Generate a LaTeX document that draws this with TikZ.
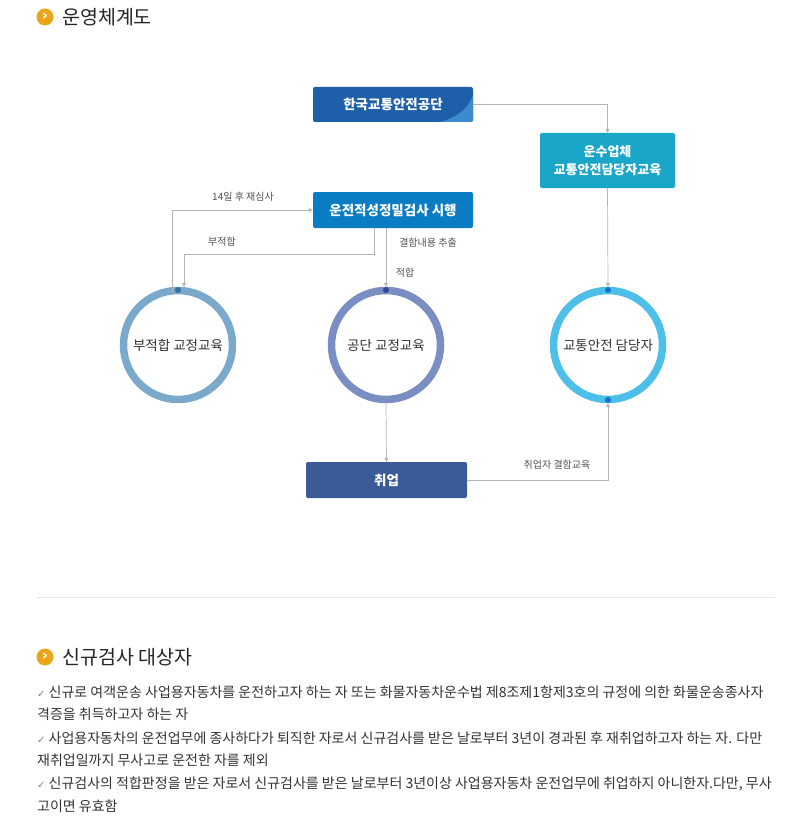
\documentclass[tikz,border=0pt]{standalone}
\usepackage{fontspec}
\setmainfont{Noto Sans CJK KR}
\newfontfamily\dvs{DejaVu Sans}
\usetikzlibrary{arrows.meta}
\definecolor{lnc}{HTML}{B5B5B5}
\definecolor{orng}{HTML}{E9A51C}
\definecolor{txt}{HTML}{333333}
\definecolor{kb}{RGB}{29,95,168}
\definecolor{kbl}{RGB}{60,140,205}
\definecolor{ub}{RGB}{26,166,201}
\definecolor{tb}{RGB}{10,124,196}
\definecolor{jb}{RGB}{58,91,152}
\definecolor{r1}{RGB}{122,169,203}
\definecolor{r2}{RGB}{123,142,196}
\definecolor{r3}{RGB}{77,191,233}
\definecolor{d1c}{RGB}{55,110,160}
\definecolor{d2c}{RGB}{50,70,150}
\definecolor{d3c}{RGB}{20,120,200}
\tikzset{
 x=1pt,y=-1pt,
 box/.style={rounded corners=2pt,text=white,font=\bfseries\fontsize{13.5}{15}\selectfont,align=center,inner sep=0pt},
 conn/.style={draw=lnc,line width=0.7pt},
 arr/.style={conn,-{Triangle[length=4pt,width=4pt]}},
 lbl/.style={font=\fontsize{10}{11}\selectfont,text=txt!85},
 ring/.style={line width=7.5pt,fill=white,inner sep=0pt,minimum size=109pt,circle,font=\fontsize{13.5}{15}\selectfont,text=txt},
 dot/.style={circle,inner sep=0pt,minimum size=6pt},
 bullet/.style={font=\fontsize{14}{16}\selectfont,text=txt,anchor=west,inner sep=0pt},
 head/.style={font=\fontsize{19.5}{22}\selectfont,text=black!85,anchor=west,inner sep=0pt},
 icon/.style={circle,fill=orng,minimum size=17pt,inner sep=0pt,text=white,font=\bfseries\fontsize{15}{15}\selectfont},
 chk/.style={font=\fontsize{10}{10}\selectfont,text=black!50},
}
\begin{document}
\begin{tikzpicture}
\useasboundingbox (0,0) rectangle (802,821);
\fill[white] (0,0) rectangle (802,821);
% headings
\node[icon] (i1) at (45,17) {\dvs ›};
\node[head] (h1) at (62,17) {운영체계도};
% boxes
\fill[rounded corners=2pt,fill=kb] (313,87) rectangle (473,122);
\fill[kbl] (473,95) -- (473,120) .. controls (473,121) and (472,122) .. (470,122) -- (440,122) .. controls (455,118) and (468,110) .. (473,95) -- cycle;
\node[box,minimum width=160pt,minimum height=35pt] (k) at (393,104.5) {한국교통안전공단};
\node[box,fill=ub,minimum width=135pt,minimum height=55pt,font=\bfseries\fontsize{13}{18}\selectfont] (u) at (607.5,160.5) {운수업체\\교통안전담당자교육};
\node[box,fill=tb,minimum width=160pt,minimum height=36pt] (t) at (393,210) {운전적성정밀검사 시행};
\node[box,fill=jb,minimum width=161pt,minimum height=36pt] (j) at (386.5,480) {취업};
% rings
\node[ring,draw=r1] (c1) at (178,345) {부적합 교정교육};
\node[ring,draw=r2] (c2) at (386,345) {공단 교정교육};
\node[ring,draw=r3] (c3) at (608,345) {교통안전 담당자};
\node[dot,fill=d1c] (d1) at (178,290) {};
\node[dot,fill=d2c] (d2) at (386,290) {};
\node[dot,fill=d3c] (d3) at (608,290) {};
\node[dot,fill=d3c] (d4) at (608,400) {};
% connectors
\coordinate (a1) at (172,292);
\draw[arr] (a1) |- (t.west);
\node[lbl] (l1) at (243,197) {14일 후 재심사};
\coordinate (b0) at (374,228);
\coordinate (b1) at (184,287);
\draw[arr] (b0) -- (374,254) -| (b1);
\node[lbl] (l2) at (222,242) {부적합};
\coordinate (e0) at (386,228);
\draw[arr] (e0) -- (d2.north);
\node[lbl] (l3) at (428,243) {결함내용 추출};
\node[lbl] (l4) at (405,273) {적합};
\draw[arr] (k.east) -| (u.north);
\draw[arr] (u.south) -- (d3.north);
\draw[arr] (c2.south) -- (j.north);
\draw[arr] (j.east) -| (d4.south);
\node[lbl] (l5) at (557,465) {취업자 결함교육};
% separator
\draw[black!10,line width=0.6pt] (37,597) -- (775,597);
\node[icon] (i2) at (45,657) {\dvs ›};
\node[head] (h2) at (62,657) {신규검사 대상자};
\node[bullet] (p1) at (37,692) {{\dvs\color{black!50}\fontsize{10}{10}\selectfont✓}\ 신규로 여객운송 사업용자동차를 운전하고자 하는 자 또는 화물자동차운수법 제8조제1항제3호의 규정에 의한 화물운송종사자};
\node[bullet] (p2) at (37,714) {격증을 취득하고자 하는 자};
\node[bullet] (p3) at (37,738) {{\dvs\color{black!50}\fontsize{10}{10}\selectfont✓}\ 사업용자동차의 운전업무에 종사하다가 퇴직한 자로서 신규검사를 받은 날로부터 3년이 경과된 후 재취업하고자 하는 자. 다만};
\node[bullet] (p4) at (37,760) {재취업일까지 무사고로 운전한 자를 제외};
\node[bullet] (p5) at (37,784) {{\dvs\color{black!50}\fontsize{10}{10}\selectfont✓}\ 신규검사의 적합판정을 받은 자로서 신규검사를 받은 날로부터 3년이상 사업용자동차 운전업무에 취업하지 아니한자.다만, 무사};
\node[bullet] (p6) at (37,806) {고이면 유효함};
\end{tikzpicture}
\end{document}
